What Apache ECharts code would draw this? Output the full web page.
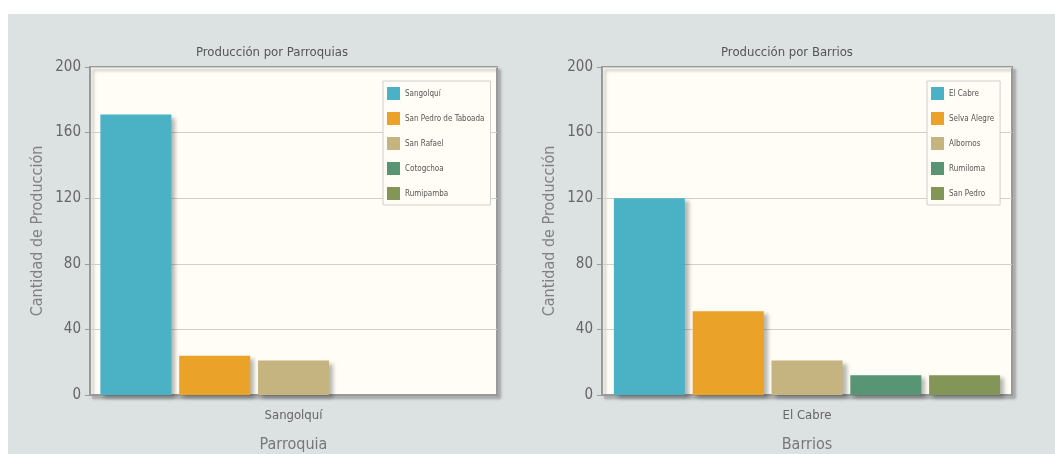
<!DOCTYPE html>
<html>
<head>
<meta charset="utf-8">
<script src="https://cdn.jsdelivr.net/npm/echarts@6/dist/echarts.min.js"></script>
<style>
  html, body { margin: 0; padding: 0; background: #ffffff; }
  #bg { position: absolute; left: 8px; top: 14px; right: 0; bottom: 0; background: #dce1e2; }
  #chart { position: absolute; left: 0; top: 0; width: 1055px; height: 454px; }
</style>
</head>
<body>
<div id="bg"></div>
<div id="chart"></div>
<script>
const parroquias = ['Sangolquí', 'San Pedro de Taboada', 'San Rafael', 'Cotogchoa', 'Rumipamba'];
const parroquiaValues = [171, 24, 21, null, null];
const parroquiaCategory = ['Sangolquí'];

const barrios = ['El Cabre', 'Selva Alegre', 'Albornos', 'Rumiloma', 'San Pedro'];
const barrioValues = [120, 51, 21, 12, 12];
const barrioCategory = ['El Cabre'];

const seriesColors = ['#4bb2c5', '#eaa228', '#c5b47f', '#579575', '#839557'];
const yMin = 0, yMax = 200, yStep = 40;

const FONT = '"DejaVu Sans Condensed", "DejaVu Sans", sans-serif';

function makeSeries(names, values, idx) {
  return names.map((n, i) => ({
    name: n,
    type: 'bar',
    xAxisIndex: idx,
    yAxisIndex: idx,
    data: [values[i]],
    barWidth: 71,
    barGap: '11%',
    itemStyle: {
      color: seriesColors[i],
      shadowColor: 'rgba(0,0,0,0.28)',
      shadowBlur: 4,
      shadowOffsetX: 4,
      shadowOffsetY: 3
    },
    emphasis: { disabled: true },
    animation: false
  }));
}

function yAxis(idx) {
  return {
    type: 'value', gridIndex: idx, min: yMin, max: yMax, interval: yStep,
    name: 'Cantidad de Producción', nameLocation: 'middle', nameGap: 44,
    nameTextStyle: { fontFamily: FONT, fontSize: 16, color: '#808080' },
    axisLine: { show: true, lineStyle: { color: '#999', width: 1 } },
    axisTick: { show: true, length: 5, lineStyle: { color: '#999' } },
    axisLabel: { fontFamily: FONT, fontSize: 15, color: '#666', margin: 9 },
    splitLine: { show: true, lineStyle: { color: '#d2d0c8', width: 1 } }
  };
}

function xAxis(idx, cats, name) {
  return {
    type: 'category', gridIndex: idx, data: cats,
    name: name, nameLocation: 'middle', nameGap: 42,
    nameTextStyle: { fontFamily: FONT, fontSize: 16, color: '#777' },
    axisLine: { show: true, lineStyle: { color: '#999', width: 2 } },
    axisTick: { show: false },
    axisLabel: { fontFamily: FONT, fontSize: 13, color: '#666', margin: 14 }
  };
}

function legend(names, left) {
  return {
    data: names, orient: 'vertical', left: left, top: 81,
    icon: 'rect', itemWidth: 13, itemHeight: 13, itemGap: 12,
    padding: [6, 6, 5, 4],
    backgroundColor: '#fffdf6', borderColor: '#cfcfcf', borderWidth: 1,
    textStyle: { fontFamily: FONT, fontSize: 8, color: '#555' },
    selectedMode: false
  };
}

const gridStyle = {
  show: true, backgroundColor: '#fffdf6', borderColor: '#999', borderWidth: 2,
  shadowColor: 'rgba(0,0,0,0.22)', shadowBlur: 3, shadowOffsetX: 3, shadowOffsetY: 3,
  containLabel: false, outerBoundsMode: 'none'
};

const chart = echarts.init(document.getElementById('chart'), null, { renderer: 'canvas' });
chart.setOption({
  animation: false,
  backgroundColor: 'transparent',
  title: [
    { text: 'Producción por Parroquias', left: 267, top: 41, textAlign: 'center',
      textStyle: { fontFamily: FONT, fontSize: 13, fontWeight: 'normal', color: '#555' } },
    { text: 'Producción por Barrios', left: 782, top: 41, textAlign: 'center',
      textStyle: { fontFamily: FONT, fontSize: 13, fontWeight: 'normal', color: '#555' } }
  ],
  legend: [legend(parroquias, 383), legend(barrios, 927)],
  grid: [
    Object.assign({ left: 90, right: 558, top: 67, bottom: 59 }, gridStyle),
    Object.assign({ left: 602, right: 43, top: 67, bottom: 59 }, gridStyle)
  ],
  xAxis: [xAxis(0, parroquiaCategory, 'Parroquia'), xAxis(1, barrioCategory, 'Barrios')],
  yAxis: [yAxis(0), yAxis(1)],
  series: makeSeries(parroquias, parroquiaValues, 0).concat(makeSeries(barrios, barrioValues, 1))
});
</script>
</body>
</html>
